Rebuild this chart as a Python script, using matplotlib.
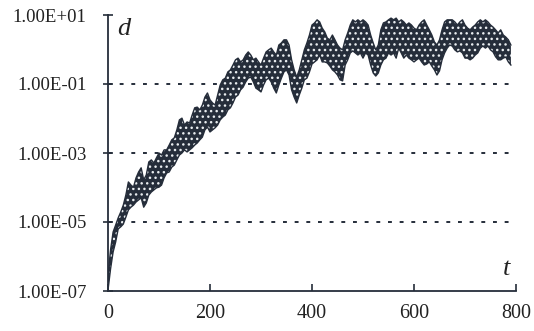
import matplotlib
matplotlib.use("Agg")
import matplotlib.pyplot as plt
import numpy as np

# time grid (step 5) and envelope of the oscillating distance d(t), read as log10 values
t = list(range(0, 795, 5))
upper_log = [
    -6.55, -5.81, -5.29, -5.09, -4.88, -4.71, -4.51, -4.22, -3.84, -3.93,
    -3.99, -3.72, -3.55, -3.43, -3.78, -3.64, -3.26, -3.20, -3.29, -3.14,
    -3.00, -3.06, -2.91, -2.91, -2.77, -2.62, -2.56, -2.33, -2.04, -1.99,
    -2.19, -2.10, -2.13, -1.90, -1.69, -1.67, -1.75, -1.61, -1.38, -1.26,
    -1.46, -1.55, -1.61, -1.32, -1.03, -0.88, -0.83, -0.65, -0.59, -0.45,
    -0.30, -0.25, -0.36, -0.30, -0.16, -0.07, -0.16, -0.30, -0.25, -0.36,
    -0.45, -0.25, -0.07, -0.01, 0.04, -0.07, -0.16, 0.13, 0.19, 0.28,
    0.28, 0.13, -0.30, -0.59, -0.80, -0.59, -0.30, -0.01, 0.19, 0.42,
    0.71, 0.77, 0.86, 0.80, 0.62, 0.51, 0.33, 0.28, 0.42, 0.28,
    0.13, 0.04, -0.01, 0.28, 0.48, 0.71, 0.86, 0.80, 0.86, 0.80,
    0.86, 0.80, 0.71, 0.42, 0.19, -0.01, 0.13, 0.57, 0.77, 0.80,
    0.86, 0.91, 0.86, 0.91, 0.80, 0.86, 0.80, 0.71, 0.77, 0.71,
    0.62, 0.57, 0.71, 0.80, 0.86, 0.71, 0.57, 0.42, 0.22, 0.13,
    0.28, 0.57, 0.80, 0.86, 0.86, 0.86, 0.80, 0.71, 0.80, 0.86,
    0.71, 0.62, 0.57, 0.65, 0.71, 0.80, 0.86, 0.80, 0.86, 0.80,
    0.71, 0.65, 0.57, 0.48, 0.57, 0.42, 0.36, 0.28, 0.13,
]
lower_log = [
    -6.97, -6.36, -5.87, -5.58, -5.20, -5.14, -5.06, -4.86, -4.65, -4.57,
    -4.51, -4.42, -4.36, -4.30, -4.57, -4.45, -4.22, -4.13, -4.07, -4.01,
    -3.99, -3.93, -3.72, -3.58, -3.55, -3.41, -3.35, -3.20, -3.06, -3.00,
    -2.91, -2.97, -2.91, -2.85, -2.77, -2.71, -2.62, -2.54, -2.33, -2.25,
    -2.39, -2.33, -2.27, -2.19, -2.04, -1.96, -1.90, -1.75, -1.69, -1.55,
    -1.38, -1.32, -1.17, -1.09, -0.94, -0.83, -0.80, -0.94, -1.12, -1.17,
    -1.23, -1.03, -0.88, -0.83, -0.94, -1.12, -1.26, -1.03, -0.83, -0.65,
    -0.59, -0.74, -1.17, -1.38, -1.55, -1.32, -1.12, -0.88, -0.83, -0.65,
    -0.42, -0.36, -0.30, -0.16, -0.36, -0.36, -0.39, -0.48, -0.59, -0.65,
    -0.74, -0.88, -0.91, -0.45, -0.30, -0.10, -0.04, -0.10, -0.16, -0.10,
    -0.25, -0.10, -0.16, -0.45, -0.68, -0.77, -0.68, -0.45, -0.30, -0.25,
    -0.10, -0.16, -0.10, -0.25, 0.04, -0.10, -0.25, -0.16, -0.25, -0.30,
    -0.36, -0.30, -0.25, -0.36, -0.45, -0.42, -0.36, -0.48, -0.59, -0.74,
    -0.62, -0.30, -0.10, 0.04, 0.13, 0.10, -0.01, -0.07, -0.04, -0.10,
    -0.25, -0.25, -0.30, -0.25, -0.16, -0.10, 0.04, 0.10, 0.04, 0.10,
    -0.01, -0.07, -0.21, -0.30, -0.30, -0.25, -0.22, -0.36, -0.45,
]

y_ticks = [1e-7, 1e-5, 1e-3, 1e-1, 1e1]
y_tick_labels = ["1.00E-07", "1.00E-05", "1.00E-03", "1.00E-01", "1.00E+01"]
x_ticks = [0, 200, 400, 600, 800]
grid_levels = [1e-5, 1e-3, 1e-1]

upper = [10 ** v for v in upper_log]
lower = [10 ** v for v in lower_log]

ink = "#252d3a"
serif = ["Liberation Serif", "DejaVu Serif"]

fig = plt.figure(figsize=(5.34, 3.31), dpi=100)
ax = fig.add_axes([108 / 534, 40 / 331, 408 / 534, 276 / 331])
ax.set_yscale("log")
ax.set_xlim(0, 800)
ax.set_ylim(1e-7, 1e1)

for g in grid_levels:
    ax.axhline(g, color=ink, lw=1.4, ls=(0, (2.0, 4.0)), zorder=1)

ax.fill_between(t, lower, upper, facecolor=ink, edgecolor="#e8ecef",
                hatch="...", linewidth=0, zorder=2)
ax.plot(t, upper, color=ink, lw=1.0, zorder=3)
ax.plot(t, lower, color=ink, lw=1.0, zorder=3)

for s in ["top", "right"]:
    ax.spines[s].set_visible(False)
for s in ["left", "bottom"]:
    ax.spines[s].set_color(ink)
    ax.spines[s].set_linewidth(1.3)

ax.set_yticks(y_ticks)
ax.set_yticklabels(y_tick_labels)
ax.yaxis.set_minor_locator(matplotlib.ticker.NullLocator())
ax.set_xticks(x_ticks)
ax.tick_params(axis="y", direction="inout", length=7, width=1.2, color=ink,
               labelsize=13.5, pad=12)
ax.tick_params(axis="x", direction="in", length=5, width=1.2, color=ink,
               labelsize=14.5, pad=9)
for lab in ax.get_xticklabels() + ax.get_yticklabels():
    lab.set_family(serif)
    lab.set_color("#222222")

ax.text(18, 10 ** 0.6, "d", family=serif, style="italic", fontsize=19,
        color="#222222", ha="left", va="center")
ax.text(782, 10 ** -6.35, "t", family=serif, style="italic", fontsize=19,
        color="#222222", ha="center", va="center")

fig.savefig("out.png", dpi=100)
